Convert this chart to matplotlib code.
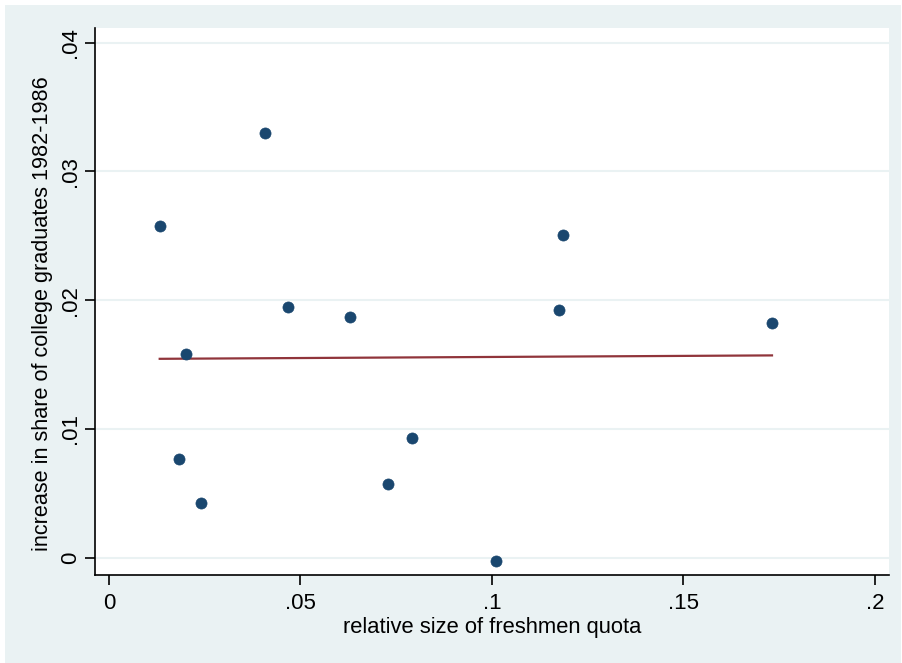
import numpy as np
import matplotlib
matplotlib.use("Agg")
import matplotlib.pyplot as plt
from matplotlib.patches import Rectangle

# data
quota = [0.01324, 0.01836, 0.02010, 0.02410, 0.04081, 0.04674, 0.06292,
         0.07285, 0.07911, 0.10104, 0.11757, 0.11854, 0.17311]
grad_increase = [0.02579, 0.00767, 0.01580, 0.00425, 0.03299, 0.01945, 0.01872,
                 0.00572, 0.00932, -0.00026, 0.01924, 0.02509, 0.01821]
xticks = [0, 0.05, 0.1, 0.15, 0.2]
xticklabels = ["0", ".05", ".1", ".15", ".2"]
yticks = [0, 0.01, 0.02, 0.03, 0.04]
yticklabels = ["0", ".01", ".02", ".03", ".04"]

plt.rcParams['font.family'] = ['Liberation Sans', 'DejaVu Sans']

W, H = 902, 663
fig = plt.figure(figsize=(W / 100, H / 100), dpi=100, facecolor="white")
bg = "#eaf2f3"
rect = Rectangle((5 / W, 0), (W - 6) / W, (H - 5) / H,
                 transform=fig.transFigure, facecolor=bg,
                 edgecolor="none", zorder=-10)
fig.add_artist(rect)

left, right, top, bottom = 95, 889, 28, 575
ax = fig.add_axes([left / W, 1 - bottom / H, (right - left) / W, (bottom - top) / H])
ax.set_facecolor("white")
ax.set_zorder(1)

x = np.array(quota)
y = np.array(grad_increase)
b, a = np.polyfit(x, y, 1)
xs = np.array([x.min(), x.max()])

ax.scatter(x, y, s=64, color="#1a476f", edgecolors="#1a476f", linewidths=0.5, zorder=3)
ax.plot(xs, a + b * xs, color="#90353b", lw=1.6, zorder=2)

ax.set_xlim(-0.003655, 0.20366)
ax.set_ylim(-0.001344, 0.04114)

ax.set_xticks(xticks)
ax.set_xticklabels(xticklabels)
ax.set_yticks(yticks)
ax.set_yticklabels(yticklabels, rotation=90, va="center")

ax.grid(axis="y", color="#eaf2f3", lw=1.5, zorder=0)
ax.set_axisbelow(True)

for s in ["top", "right"]:
    ax.spines[s].set_visible(False)
for s in ["left", "bottom"]:
    ax.spines[s].set_color("black")
    ax.spines[s].set_linewidth(1.2)

ax.tick_params(axis="both", length=7, width=1.2, color="black", labelsize=16)
ax.tick_params(axis="x", pad=6)
ax.tick_params(axis="y", pad=3)

ax.set_xlabel("relative size of freshmen quota", fontsize=15.8, labelpad=2)
ax.set_ylabel("increase in share of college graduates 1982-1986", fontsize=15.6)
ax.yaxis.set_label_coords(-0.053, 0.477)

fig.savefig("out.png", dpi=100, facecolor=fig.get_facecolor())
